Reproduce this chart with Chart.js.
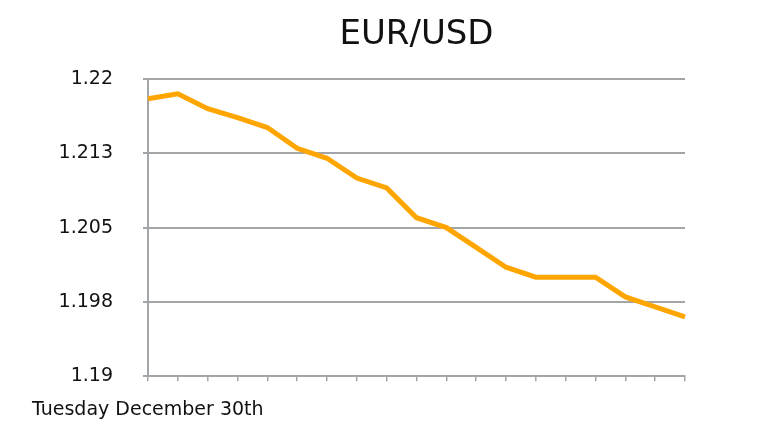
<!DOCTYPE html>
<html>
<head>
<meta charset="utf-8">
<script src="https://cdn.jsdelivr.net/npm/chart.js@4.4.1/dist/chart.umd.min.js"></script>
<style>
  html, body { margin: 0; padding: 0; background: #fff; }
  #wrap { width: 770px; height: 442px; }
</style>
</head>
<body>
<div id="wrap"><canvas id="fxChart" width="770" height="442"></canvas></div>
<script>
// one reading per tick, left to right
var categories = ['1', '2', '3', '4', '5', '6', '7', '8', '9', '10',
                  '11', '12', '13', '14', '15', '16', '17', '18', '19'];
var eurUsd = [1.2180, 1.2185, 1.2170, 1.2161, 1.2151, 1.2130, 1.2120, 1.2100, 1.2090, 1.2060,
              1.2050, 1.2030, 1.2010, 1.2000, 1.2000, 1.2000, 1.1980, 1.1970, 1.1960];
var yTickValues = [1.19, 1.1975, 1.205, 1.2125, 1.22];
var yTickLabels = ['1.19', '1.198', '1.205', '1.213', '1.22'];

var gridGray = '#a3a6a9';
var font = 'DejaVu Sans';

var ctx = document.getElementById('fxChart');
var chart = new Chart(ctx, {
    type: 'line',
    data: {
        labels: categories,
        datasets: [{
            data: eurUsd,
            borderColor: '#ffa500',
            borderWidth: 5,
            pointRadius: 0,
            tension: 0,
            fill: false
        }]
    },
    options: {
        responsive: false,
        animation: false,
        layout: { padding: { left: 32, right: 85, top: 0, bottom: 0 } },
        plugins: {
            legend: { display: false },
            tooltip: { enabled: false },
            subtitle: {
                display: true,
                position: 'bottom',
                align: 'start',
                text: 'Tuesday December 30th',
                color: '#111',
                font: { family: font, size: 19, weight: 'normal', lineHeight: 1.2 },
                padding: { top: 17, bottom: 21 }
            }
        },
        scales: {
            // top axis only carries the chart title, centred over the plot
            top: {
                type: 'category',
                position: 'top',
                grid: { display: false, drawTicks: false },
                border: { display: false },
                ticks: { display: false },
                title: {
                    display: true,
                    text: 'EUR/USD',
                    color: '#111',
                    font: { family: font, size: 34, weight: 'normal', lineHeight: 1.2 },
                    padding: { top: 15, bottom: 0 }
                },
                afterFit: function (axis) { axis.height = 79; }
            },
            x: {
                offset: false,
                grid: {
                    drawOnChartArea: false,
                    drawTicks: true,
                    tickLength: 5,
                    color: gridGray,
                    lineWidth: 1.5
                },
                border: { color: gridGray, width: 2 },
                ticks: { display: false, autoSkip: false },
                afterFit: function (axis) { axis.height = 5; }
            },
            y: {
                min: 1.19,
                max: 1.22,
                afterBuildTicks: function (axis) {
                    axis.ticks = yTickValues.map(function (v) { return { value: v }; });
                },
                grid: {
                    color: gridGray,
                    lineWidth: 2,
                    tickLength: 5
                },
                border: { color: gridGray, width: 2 },
                ticks: {
                    color: '#111',
                    padding: 30,
                    font: { family: font, size: 19 },
                    callback: function (value, index) { return yTickLabels[index]; }
                },
                afterFit: function (axis) { axis.width = 116; }
            }
        }
    }
});
</script>
</body>
</html>
